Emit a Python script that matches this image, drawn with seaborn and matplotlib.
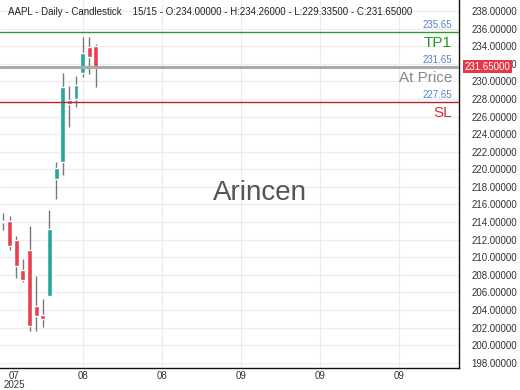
import matplotlib
matplotlib.use('Agg')
import matplotlib.pyplot as plt
import matplotlib.transforms as mtransforms
import seaborn as sns
import pandas as pd

# daily candles (15 bars)
opens  = [214.0, 214.1, 211.9, 208.5, 210.8, 204.4, 203.4, 205.6, 218.9, 220.8, 227.9, 228.0, 231.0, 233.9, 234.0]
highs  = [215.0, 214.7, 212.4, 209.8, 213.5, 207.9, 205.2, 215.4, 220.8, 231.0, 229.5, 230.6, 235.0, 235.0, 234.26]
lows   = [213.1, 210.8, 207.6, 207.2, 201.6, 201.6, 202.1, 205.6, 216.6, 219.3, 224.8, 227.1, 230.5, 230.8, 229.335]
closes = [214.05, 211.3, 209.0, 207.4, 202.2, 203.3, 203.0, 213.2, 220.1, 229.35, 227.4, 229.6, 233.2, 232.8, 231.65]

levels = [235.65, 231.65, 227.65]
level_names = ['TP1', 'At Price', 'SL']
level_colors = ['#2e9a2e', '#aaaaaa', '#b3262b']
name_colors = ['#1f9a1f', '#888888', '#d3302f']

tick_pos = [1.66, 12.05, 23.9, 35.8, 47.7, 59.6]
tick_labels = ['07\n2025', '08', '08', '09', '09', '09']

df = pd.DataFrame({'open': opens, 'high': highs, 'low': lows, 'close': closes})
df['idx'] = range(len(df))
df['up'] = df['close'] >= df['open']

sns.set_style('white')
plt.rcParams['font.family'] = ['Liberation Sans', 'DejaVu Sans']

fig = plt.figure(figsize=(5.2, 3.9), dpi=100)
ax = fig.add_axes([0, 22 / 390, 459 / 520, 368 / 390])

ax.set_xlim(-0.45, 68.7)
ax.set_ylim(197.4, 239.25)

# grid
for v in range(198, 240, 2):
    ax.axhline(v, color='#ebebeb', lw=0.8, zorder=0)
for t in tick_pos[1:]:
    ax.axvline(t, color='#ebebeb', lw=0.8, zorder=0)

# wicks
ax.vlines(df['idx'], df['low'], df['high'], color='#777777', lw=1.0, zorder=2)

# bodies
green = '#26a69a'
red = '#e5414f'
colors = [green if u else red for u in df['up']]
heights = (df['close'] - df['open']).abs().clip(lower=0.15)
bottoms = df[['open', 'close']].min(axis=1)
ax.bar(df['idx'], heights, bottom=bottoms, width=0.74, color=colors, zorder=3)
# doji on first bar
ax.bar(df['idx'][:1], [0.15], bottom=[213.95], width=0.74, color='#7a9a8a', zorder=3)

# levels
for lvl, nm, lc, nc in zip(levels, level_names, level_colors, name_colors):
    lw = 2.2 if nm == 'At Price' else 1.0
    ax.axhline(lvl, color=lc, lw=lw, zorder=4)
    ax.annotate(f'{lvl:.2f}', xy=(0.985, lvl), xycoords=('axes fraction', 'data'),
                xytext=(0, 1.5), textcoords='offset points', ha='right', va='bottom',
                fontsize=7, color='#5b7fc9')
    ax.annotate(nm, xy=(0.985, lvl), xycoords=('axes fraction', 'data'),
                xytext=(0, -3), textcoords='offset points', ha='right', va='top',
                fontsize=11, color=nc)

# title
ax.text(0.0174, 0.967,
        'AAPL - Daily - Candlestick    15/15 - O:234.00000 - H:234.26000 - L:229.33500 - C:231.65000',
        transform=ax.transAxes, fontsize=7, color='#222222', va='center', ha='left')

# watermark
ax.text(0.566, 0.475, 'Arincen', transform=ax.transAxes, fontsize=20,
        color='#555555', ha='center', va='center', zorder=1)

# axes
ax.yaxis.tick_right()
ax.set_yticks(range(198, 240, 2))
ax.set_yticklabels([f'{v:.5f}' for v in range(198, 240, 2)], fontsize=7, color='#333333')
ax.tick_params(axis='y', length=0, pad=9)
ax.set_xticks(tick_pos)
ax.set_xticklabels(tick_labels, fontsize=7, color='#333333', linespacing=0.9)
ax.tick_params(axis='x', length=0, pad=2)

for s in ['top', 'left']:
    ax.spines[s].set_visible(False)
for s in ['right', 'bottom']:
    ax.spines[s].set_color('#111111')
    ax.spines[s].set_linewidth(1.0)

# current price tag
trans = mtransforms.blended_transform_factory(ax.transAxes, ax.transData)
ax.text(1.012, closes[-1], f'{closes[-1]:.5f}', transform=trans, fontsize=7,
        color='white', ha='left', va='center', zorder=6, clip_on=False,
        bbox=dict(boxstyle='square,pad=0.15', fc='#e3394b', ec='none'))

fig.savefig('out.png', dpi=100)
